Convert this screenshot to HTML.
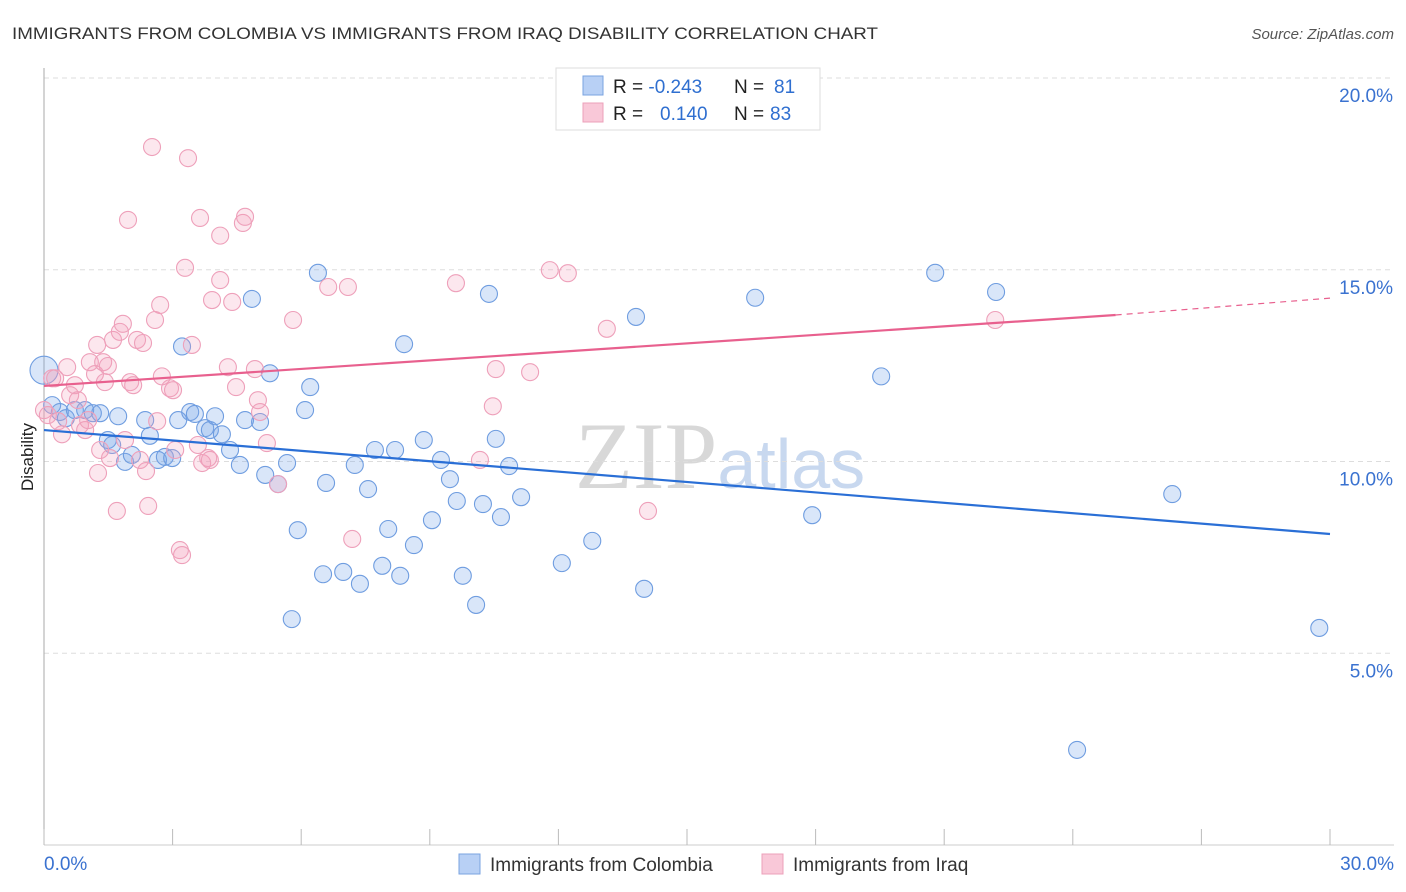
<!DOCTYPE html>
<html><head><meta charset="utf-8"><style>
body{margin:0;background:#fff;font-family:"Liberation Sans",sans-serif;}
svg{display:block}
</style></head><body>
<svg id="c" width="1406" height="892">
<text x="12" y="39" font-size="17" fill="#333" textLength="866" lengthAdjust="spacingAndGlyphs">IMMIGRANTS FROM COLOMBIA VS IMMIGRANTS FROM IRAQ DISABILITY CORRELATION CHART</text>
<text x="1394" y="39" font-size="15" fill="#555" font-style="italic" text-anchor="end">Source: ZipAtlas.com</text>
<text x="33" y="457" font-size="17" fill="#222" text-anchor="middle" transform="rotate(-90 33 457)">Disability</text>
<text x="720" y="488" font-size="95" fill="#d8d8d8" text-anchor="middle" font-family="Liberation Serif,serif">ZIP<tspan fill="#c8d8ef" font-family="Liberation Sans,sans-serif" font-size="70">atlas</tspan></text>
<g id="grid"></g><g id="pts"></g><g id="lines"></g>
<g>
<rect x="556" y="68" width="264" height="62" fill="#fff" stroke="#ddd"/>
<rect x="583" y="76" width="20" height="19" fill="#b8d0f5" stroke="#7aa3e0"/>
<rect x="583" y="103" width="20" height="19" fill="#f9c8d8" stroke="#eca0ba"/>
<text x="613" y="93" font-size="19" fill="#222">R = <tspan fill="#2f6fd0">-0.243</tspan><tspan x="734">N = </tspan><tspan fill="#2f6fd0" x="774">81</tspan></text>
<text x="613" y="120" font-size="19" fill="#222">R = <tspan fill="#2f6fd0" x="660">0.140</tspan><tspan x="734">N = </tspan><tspan fill="#2f6fd0" x="770">83</tspan></text>
</g>
<g>
<rect x="459" y="854" width="21" height="20" fill="#b8d0f5" stroke="#7aa3e0"/>
<text x="490" y="871" font-size="19" fill="#333">Immigrants from Colombia</text>
<rect x="762" y="854" width="21" height="20" fill="#f9c8d8" stroke="#eca0ba"/>
<text x="793" y="871" font-size="19" fill="#333">Immigrants from Iraq</text>
</g>
</svg>
<script>
const yTicks=[5,10,15,20];
const xTickLabels=["0.0%","30.0%"];
const blueX=[0,0.19,0.37,0.51,0.72,0.96,1.14,1.31,1.73,1.49,1.59,1.89,2.05,2.36,2.47,2.66,2.82,2.99,3.22,3.13,3.41,3.52,3.76,3.87,3.99,4.15,4.34,4.57,4.69,4.85,5.04,5.27,5.16,5.46,5.67,5.92,5.78,6.09,6.21,6.39,6.51,6.58,6.98,7.25,7.37,7.56,7.72,7.89,8.03,8.19,8.31,8.40,8.63,8.86,9.05,9.26,9.47,9.63,9.77,10.08,10.24,10.38,10.54,10.66,10.85,11.13,12.08,12.79,13.81,14.00,16.59,17.92,19.53,20.79,22.21,24.10,26.32,29.75];
const blueY=[12.38,11.47,11.29,11.13,11.34,11.34,11.26,11.26,11.18,10.56,10.43,9.99,10.17,11.08,10.67,10.04,10.12,10.09,13.00,11.08,11.29,11.24,10.87,10.82,11.18,10.71,10.30,9.91,11.08,14.24,11.03,12.30,9.65,9.41,9.96,8.21,5.89,11.34,11.94,14.92,7.06,9.44,7.12,9.91,6.81,9.28,10.30,7.28,8.24,10.30,7.02,13.06,7.82,10.56,8.47,10.04,9.54,8.97,7.02,6.26,8.89,14.37,10.59,8.55,9.88,9.07,7.35,7.93,13.77,6.68,14.27,8.60,12.22,14.92,14.42,2.48,9.15,5.66];
const pinkX=[0,0.09,0.19,0.26,0.33,0.42,0.54,0.61,0.72,0.79,0.84,0.96,1.03,1.07,1.19,1.24,1.31,1.26,1.38,1.42,1.49,1.54,1.61,1.70,1.77,1.84,1.89,1.96,2.01,2.08,2.17,2.24,2.31,2.38,2.43,2.52,2.59,2.64,2.71,2.75,2.94,3.01,3.06,3.17,3.22,3.29,3.36,3.45,3.59,3.64,3.69,3.83,3.87,3.92,4.11,4.11,4.29,4.39,4.48,4.64,4.69,4.92,4.99,5.04,5.20,5.46,5.81,6.63,7.09,7.19,9.61,10.17,10.47,10.54,11.34,11.80,12.22,13.13,14.09,22.19];
const pinkY=[11.34,11.21,12.17,12.17,11.05,10.71,12.46,11.73,11.99,11.60,10.95,10.82,11.08,12.59,12.28,13.04,10.30,9.70,12.59,12.07,12.49,10.09,13.17,8.71,13.38,13.59,10.56,16.30,12.07,11.99,13.17,10.04,13.09,9.75,8.84,18.20,13.69,11.05,14.08,12.22,11.91,11.86,10.30,7.69,7.56,15.05,17.91,13.04,10.43,16.35,9.96,10.09,10.04,14.21,15.89,14.73,12.46,14.16,11.94,16.22,16.38,12.41,11.60,11.29,10.48,9.41,13.69,14.55,14.55,7.98,14.65,10.04,11.44,12.41,12.33,14.99,14.91,13.46,8.71,13.69];
const X0=44,X1=1330,Y0=845,PY=38.35;
const sx=v=>X0+v/30*(X1-X0), sy=v=>Y0-v*PY;
const NS="http://www.w3.org/2000/svg";
function mk(t,a,p){const e=document.createElementNS(NS,t);for(const k in a)e.setAttribute(k,a[k]);p.appendChild(e);return e;}
const grid=document.getElementById('grid');
yTicks.forEach(t=>{
 const l=mk('line',{x1:X0,x2:1394,y1:sy(t),y2:sy(t),stroke:'#ddd','stroke-dasharray':'5,4'},grid);
 
 
 const tx=mk('text',{x:1393,y:sy(t)+24,'font-size':19,fill:'#3a72d0','text-anchor':'end'},grid);
 tx.textContent=t.toFixed(1)+'%';
 
 
});
const ax=mk('line',{x1:X0,x2:1394,y1:Y0,y2:Y0,stroke:'#ccc'},grid);


const ay=mk('line',{x1:X0,x2:X0,y1:68,y2:Y0,stroke:'#aaa'},grid);


for(let i=0;i<=30;i+=3){
 const tk=mk('line',{x1:sx(i),x2:sx(i),y1:Y0-16,y2:Y0,stroke:'#bbb'},grid);
 
 
}
[[0,'start',44],[30,'end',1394]].forEach((d,i)=>{
 const tx=mk('text',{x:d[2],y:870,'font-size':19,fill:'#3a72d0','text-anchor':d[1]},grid);
 tx.textContent=xTickLabels[i];
 
 
});
const pts=document.getElementById('pts');
blueX.forEach((v,i)=>{
 const c=mk('circle',{cx:sx(v),cy:sy(blueY[i]),r:i==0?14:8.5,fill:'rgba(120,165,235,0.28)',stroke:'#6f9de0','stroke-width':1.1},pts);
 
 
});
pinkX.forEach((v,i)=>{
 const c=mk('circle',{cx:sx(v),cy:sy(pinkY[i]),r:8.5,fill:'rgba(245,160,188,0.25)',stroke:'#eea0ba','stroke-width':1.1},pts);
 
 
});
const lines=document.getElementById('lines');
const bl=mk('line',{x1:sx(0),y1:sy(10.82),x2:sx(30),y2:sy(8.11),stroke:'#2a6fd6','stroke-width':2.2},lines);


const pl=mk('line',{x1:sx(0),y1:sy(11.97),x2:sx(25),y2:sy(13.82),stroke:'#e8608e','stroke-width':2.2},lines);


const pd=mk('line',{x1:sx(25),y1:sy(13.82),x2:sx(30),y2:sy(14.26),stroke:'#e8608e','stroke-width':1.2,'stroke-dasharray':'6,5'},lines);


</script>
</body></html>
